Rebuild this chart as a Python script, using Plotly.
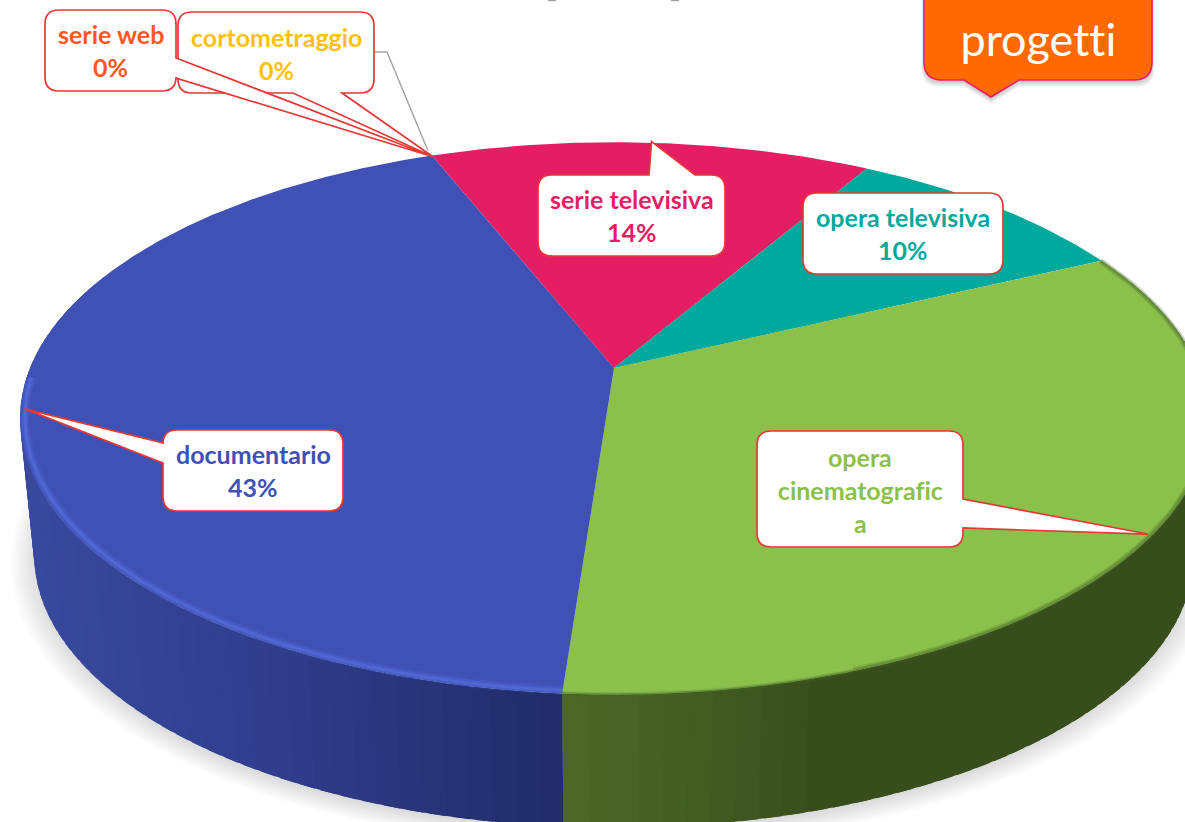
import numpy as np
import plotly.graph_objects as go

# ---- data ----
categories = ["serie televisiva", "opera televisiva", "opera cinematografica", "documentario", "cortometraggio", "serie web"]
values = [14.3, 9.5, 33.3, 42.9, 0, 0]
slice_colors = ["#E51E63", "#00A99D", "#8BC14A", "#3F51B5", "#FFC107", "#FF5722"]
label_lines = {
    "serie televisiva": ["serie televisiva"],
    "opera televisiva": ["opera televisiva"],
    "opera cinematografica": ["opera", "cinematografic", "a"],
    "documentario": ["documentario"],
    "cortometraggio": ["cortometraggio"],
    "serie web": ["serie web"],
}
badge_text = "progetti"

W, H = 1185, 822
START = -21.4
CX, CY, A, B, K = 614.0, 368.0, 584.0, 267.0, 0.1826
CY2, A2, B2 = 506.0, 570.0, 263.0


def proj(t_deg, r=1.0, cy=CY, a=A, b=B):
    t = np.radians(t_deg)
    x, y = r * np.sin(t), r * np.cos(t)
    d = 1 + K * y
    return CX + a * x / d, cy - b * y / d


def proj2(t_deg, r=1.0):
    return proj(t_deg, r, CY2, A2, B2)


def hex2rgb(h):
    return np.array([int(h[i:i + 2], 16) for i in (1, 3, 5)], float)


def ramp(x, xs, cols):
    c = [np.interp(x, xs, [hex2rgb(k)[i] for k in cols]) for i in range(3)]
    return "rgb(%d,%d,%d)" % tuple(c)


# slice angle spans
total = sum(values)
spans = {}
a0 = START
for c, v in zip(categories, values):
    a1 = a0 + 360 * v / total
    spans[c] = (a0, a1)
    a0 = a1
col = dict(zip(categories, slice_colors))

fig = go.Figure()


def poly(xs, ys, fill, line=None, w=0.0, name=None):
    fig.add_trace(go.Scatter(x=xs, y=ys, mode="lines", fill="toself", fillcolor=fill,
                             line=dict(color=line or "rgba(0,0,0,0)", width=w),
                             hoverinfo="skip" if name is None else "name",
                             name=name or "", showlegend=False))


# soft shadow under the disc
tt = np.linspace(0, 360, 241)
for i in range(12):
    r = 1.04 - i * 0.004
    sx, sy = proj(tt, r, CY2 + 4, A2, B2)
    poly(sx, sy, "rgba(0,0,0,0.013)")

# side wall, in thin overlapping strips
split = spans["opera cinematografica"][1]
blue_xs, blue_cs = [20, 300, 562], ["#3A4A9E", "#2F3D8B", "#222D6A"]
green_xs, green_cs = [562, 700, 830, 1185], ["#50692A", "#445E22", "#384D1C", "#384D1C"]
edges = np.unique(np.concatenate([np.arange(70, 291, 2.0), [split]]))
for t0, t1 in zip(edges[:-1], edges[1:]):
    is_green = (t0 + t1) / 2 < split
    te = min(t1 + 1.5, split) if is_green else t1 + 1.5
    ts = np.array([t0, te])
    xa, ya = proj(ts)
    xb, yb = proj2(ts[::-1])
    xm = (xa[0] + xb[1]) / 2
    c = ramp(xm, green_xs, green_cs) if is_green else ramp(xm, blue_xs, blue_cs)
    poly(list(xa) + list(xb), list(ya) + list(yb), c)

# top face wedges
for c, v in zip(categories, values):
    if v <= 0:
        continue
    t0, t1 = spans[c]
    ts = np.linspace(t0, t1, max(int(t1 - t0) * 2, 8))
    xs, ys = proj(ts)
    poly([CX] + list(xs) + [CX], [CY] + list(ys) + [CY], col[c], name=c)

# bevel along the front rim
g0, g1 = spans["opera cinematografica"]
for w, op, r in [(9, 0.12, 0.992), (6, 0.2, 0.992), (3, 0.35, 0.992)]:
    ts = np.linspace(split, 268, 80)
    xs, ys = proj(ts, r)
    fig.add_trace(go.Scatter(x=xs, y=ys, mode="lines", hoverinfo="skip", showlegend=False,
                             line=dict(color="rgba(96,122,235,%g)" % op, width=w)))
for w, op in [(6, 0.25), (3, 0.35)]:
    ts = np.linspace(g0, split, 80)
    xs, ys = proj(ts, 0.998)
    fig.add_trace(go.Scatter(x=xs, y=ys, mode="lines", hoverinfo="skip", showlegend=False,
                             line=dict(color="rgba(70,100,40,%g)" % op, width=w)))
ts = np.linspace(160, split, 30)
xs, ys = proj(ts, 0.993)
fig.add_trace(go.Scatter(x=xs, y=ys, mode="lines", hoverinfo="skip", showlegend=False,
                         line=dict(color="rgba(150,205,85,0.55)", width=3)))

# callouts
RED = "#E53935"
shapes, annos = [], []


def rrect(x0, y0, x1, y1, r, pointer=None):
    """pointer: (side, p, q, tip) with the base from p to q along the side."""
    d = [f"M{x0 + r},{y0}"]
    if pointer and pointer[0] == "top":
        _, p, q, tip = pointer
        d += [f"L{p},{y0}", f"L{tip[0]},{tip[1]}", f"L{q},{y0}"]
    d += [f"L{x1 - r},{y0}", f"Q{x1},{y0} {x1},{y0 + r}"]
    if pointer and pointer[0] == "right":
        _, p, q, tip = pointer
        d += [f"L{x1},{p}", f"L{tip[0]},{tip[1]}", f"L{x1},{q}"]
    d += [f"L{x1},{y1 - r}", f"Q{x1},{y1} {x1 - r},{y1}"]
    if pointer and pointer[0] == "bottom":
        _, p, q, tip = pointer
        d += [f"L{q},{y1}", f"L{tip[0]},{tip[1]}", f"L{p},{y1}"]
    d += [f"L{x0 + r},{y1}", f"Q{x0},{y1} {x0},{y1 - r}"]
    if pointer and pointer[0] == "left":
        _, p, q, tip = pointer
        d += [f"L{x0},{q}", f"L{tip[0]},{tip[1]}", f"L{x0},{p}"]
    d += [f"L{x0},{y0 + r}", f"Q{x0},{y0} {x0 + r},{y0}", "Z"]
    return " ".join(d)


def tip_of(cat, r=0.993):
    t0, t1 = spans[cat]
    x, y = proj((t0 + t1) / 2, r)
    return float(x), float(y)


# leader of the cortometraggio label
zx, zy = tip_of("cortometraggio", 1.0)
shapes.append(dict(type="path", path=f"M375,52 L387,52 L{zx - 4},{zy - 5}", line=dict(color="#A6A6A6", width=1.5)))

boxes = [
    ("cortometraggio", 178, 12, 374, 93, ("bottom", 293, 342), 37),
    ("serie web", 45, 10, 176, 91, ("right", 58, 78), 34),
    ("serie televisiva", 538, 175, 725, 256, ("top", 649, 695), 199),
    ("opera televisiva", 803, 193, 1003, 274, None, 217),
    ("documentario", 163, 430, 343, 511, ("left", 443, 463), 454),
    ("opera cinematografica", 757, 431, 963, 547, ("right", 499, 528), 457),
]
for cat, x0, y0, x1, y1, ptr, ty in boxes:
    tip_r = 1.006 if cat == "serie televisiva" else 0.993
    pointer = None if ptr is None else (ptr[0], ptr[1], ptr[2], tip_of(cat, tip_r))
    shapes.append(dict(type="path", path=rrect(x0, y0, x1, y1, 14, pointer),
                       fillcolor="#FFFFFF", line=dict(color=RED, width=1.7)))
    lines = list(label_lines[cat])
    v = values[categories.index(cat)]
    if cat != "opera cinematografica":
        lines.append(f"{round(v)}%")
    for i, txt in enumerate(lines):
        annos.append(dict(x=(x0 + x1) / 2, y=ty + 33 * i, text=f"<b>{txt}</b>",
                          showarrow=False, xanchor="center", yanchor="middle",
                          font=dict(family="Lato", size=25, color=col[cat])))

# clipped title stubs at the very top edge
for sx in (552, 675):
    shapes.append(dict(type="line", x0=sx - 4, x1=sx + 4, y0=0.5, y1=0.5, line=dict(color="#A0A0A0", width=1.5)))

# badge
for i in range(6):
    off = 2 + i
    shapes.append(dict(type="path", path=rrect(924 - i * 0.5, -30, 1152 + i * 0.5, 80 + off, 18, ("bottom", 964, 1019, (991, 97 + off))),
                       fillcolor="rgba(0,0,0,0.035)", line=dict(width=0)))
shapes.append(dict(type="path", path=rrect(924, -30, 1152, 80, 18, ("bottom", 964, 1019, (991, 97))),
                   fillcolor="#FF6A00", line=dict(color="#E91E63", width=1.6)))
annos.append(dict(x=1038, y=39, text=badge_text, showarrow=False, xanchor="center", yanchor="middle",
                  font=dict(family="Lato", size=45, color="#FFFFFF")))

fig.update_layout(
    width=W, height=H, margin=dict(l=0, r=0, t=0, b=0),
    paper_bgcolor="#FFFFFF", plot_bgcolor="#FFFFFF", showlegend=False,
    xaxis=dict(range=[0, W], visible=False, fixedrange=True),
    yaxis=dict(range=[H, 0], visible=False, fixedrange=True),
    shapes=shapes, annotations=annos,
)
post = ("document.body.style.margin='0';document.body.style.overflow='hidden';"
        "var s=document.createElement('style');"
        "s.textContent='svg text{font-variant-ligatures:none !important;}';"
        "document.head.appendChild(s);")
fig.write_html("out.html", config={"displayModeBar": False}, post_script=post)
